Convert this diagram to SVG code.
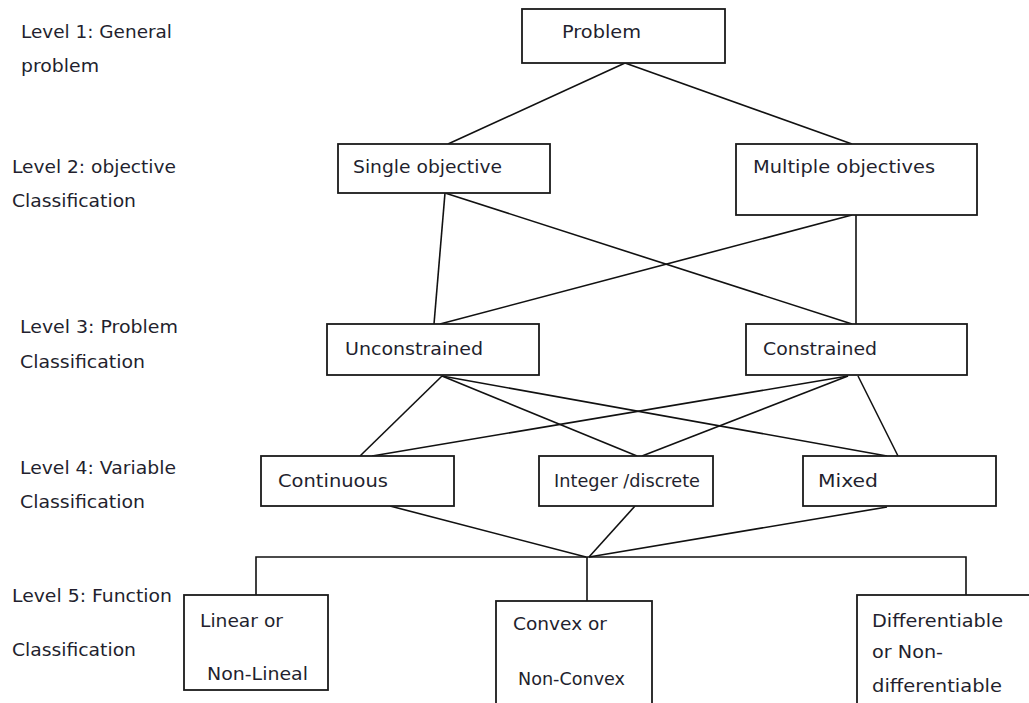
<svg xmlns="http://www.w3.org/2000/svg" width="1029" height="703" viewBox="0 0 1029 703">
<style>
text{font-family:"DejaVu Sans","Noto Sans",sans-serif;font-size:17px;fill:#231f2e}
.box{fill:#fff;stroke:#1a1a1a;stroke-width:1.8}
.c line,.c polyline{stroke:#111;stroke-width:1.6;fill:none}
</style>
<rect width="1029" height="703" fill="#fff"/>
<g id="level-labels">
<text x="21" y="38" textLength="151" lengthAdjust="spacingAndGlyphs">Level 1: General</text>
<text x="21" y="72" textLength="78" lengthAdjust="spacingAndGlyphs">problem</text>
<text x="12" y="173" textLength="164" lengthAdjust="spacingAndGlyphs">Level 2: objective</text>
<text x="12" y="207" textLength="124" lengthAdjust="spacingAndGlyphs">Classification</text>
<text x="20" y="333" textLength="158" lengthAdjust="spacingAndGlyphs">Level 3: Problem</text>
<text x="20" y="368" textLength="125" lengthAdjust="spacingAndGlyphs">Classification</text>
<text x="20" y="474" textLength="156" lengthAdjust="spacingAndGlyphs">Level 4: Variable</text>
<text x="20" y="508" textLength="125" lengthAdjust="spacingAndGlyphs">Classification</text>
<text x="12" y="602" textLength="160" lengthAdjust="spacingAndGlyphs">Level 5: Function</text>
<text x="12" y="656" textLength="124" lengthAdjust="spacingAndGlyphs">Classification</text>
</g>
<g class="c" id="connectors">
<line x1="625" y1="63" x2="448" y2="144"/>
<line x1="625" y1="63" x2="852" y2="144"/>
<line x1="445" y1="193" x2="434" y2="324"/>
<line x1="445" y1="193" x2="852" y2="324"/>
<line x1="852" y1="215" x2="440" y2="324"/>
<line x1="856" y1="215" x2="856" y2="324"/>
<line x1="442" y1="376" x2="360" y2="456"/>
<line x1="442" y1="376" x2="637" y2="456"/>
<line x1="442" y1="376" x2="887" y2="456"/>
<line x1="848" y1="376" x2="372" y2="456"/>
<line x1="848" y1="376" x2="642" y2="456"/>
<line x1="858" y1="376" x2="898" y2="456"/>
<line x1="390" y1="506" x2="586" y2="557"/>
<line x1="635" y1="506" x2="589" y2="557"/>
<line x1="887" y1="507" x2="589" y2="557"/>
<polyline points="256,595 256,557 966,557 966,595"/>
<line x1="587" y1="557" x2="587" y2="601"/>
</g>
<g id="problem"><rect class="box" x="522" y="9" width="203" height="54"/><text x="562" y="38" textLength="79" lengthAdjust="spacingAndGlyphs">Problem</text></g>
<g id="single"><rect class="box" x="338" y="144" width="212" height="49"/><text x="353" y="173" textLength="149" lengthAdjust="spacingAndGlyphs">Single objective</text></g>
<g id="multiple"><rect class="box" x="736" y="144" width="241" height="71"/><text x="753" y="173" textLength="182" lengthAdjust="spacingAndGlyphs">Multiple objectives</text></g>
<g id="unconstrained"><rect class="box" x="327" y="324" width="212" height="51"/><text x="345" y="355" textLength="138" lengthAdjust="spacingAndGlyphs">Unconstrained</text></g>
<g id="constrained"><rect class="box" x="746" y="324" width="221" height="51"/><text x="763" y="355" textLength="114" lengthAdjust="spacingAndGlyphs">Constrained</text></g>
<g id="continuous"><rect class="box" x="261" y="456" width="193" height="50"/><text x="278" y="487" textLength="110" lengthAdjust="spacingAndGlyphs">Continuous</text></g>
<g id="integer"><rect class="box" x="539" y="456" width="174" height="50"/><text x="554" y="487" textLength="146" lengthAdjust="spacingAndGlyphs">Integer /discrete</text></g>
<g id="mixed"><rect class="box" x="803" y="456" width="193" height="50"/><text x="818" y="487" textLength="60" lengthAdjust="spacingAndGlyphs">Mixed</text></g>
<g id="linear"><rect class="box" x="184" y="595" width="144" height="95"/><text x="200" y="627" textLength="83" lengthAdjust="spacingAndGlyphs">Linear or</text><text x="207" y="680" textLength="101" lengthAdjust="spacingAndGlyphs">Non-Lineal</text></g>
<g id="convex"><rect class="box" x="496" y="601" width="156" height="110"/><text x="513" y="630" textLength="94" lengthAdjust="spacingAndGlyphs">Convex or</text><text x="518" y="685" textLength="107" lengthAdjust="spacingAndGlyphs">Non-Convex</text></g>
<g id="differentiable"><rect class="box" x="857" y="595" width="180" height="120"/><text x="872" y="627" textLength="131" lengthAdjust="spacingAndGlyphs">Differentiable</text><text x="872" y="658" textLength="71" lengthAdjust="spacingAndGlyphs">or Non-</text><text x="872" y="692" textLength="130" lengthAdjust="spacingAndGlyphs">differentiable</text></g>
</svg>
